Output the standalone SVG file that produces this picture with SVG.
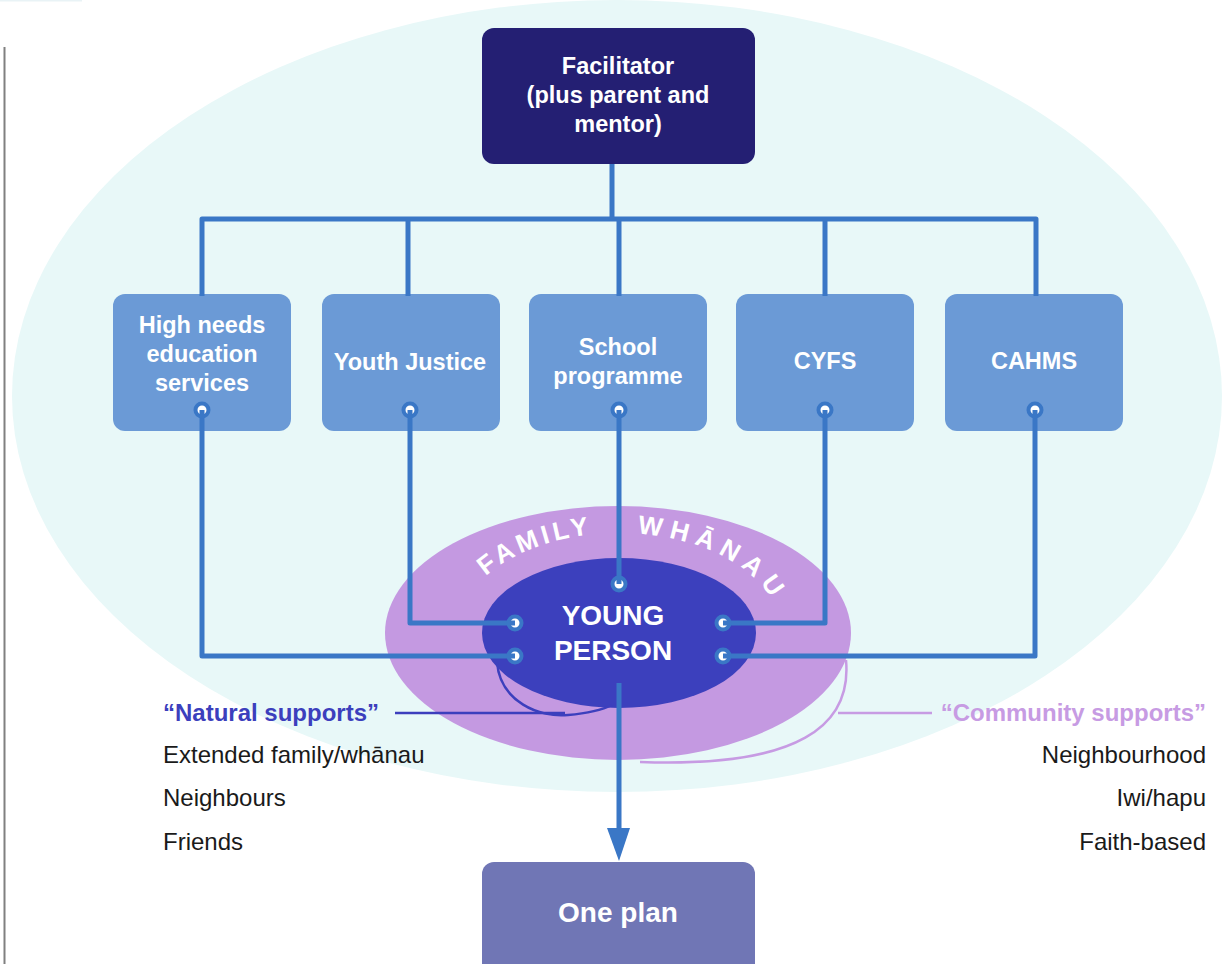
<svg xmlns="http://www.w3.org/2000/svg" width="1224" height="964" viewBox="0 0 1224 964">
<style>
  text { font-family: "Liberation Sans", Arial, sans-serif; }
  .wb { fill: #ffffff; font-weight: bold; font-size: 23.5px; text-anchor: middle; }
  .svc { fill: #6b9ad6; }
  .ln { fill: none; stroke: #3a77c6; stroke-width: 5; stroke-linejoin: round; }
  .dot { fill: #ffffff; stroke: #3a77c6; stroke-width: 4; }
  .plain { fill: #1a1a1a; font-size: 24px; }
</style>
<defs>
  <path id="arcL" d="M 457,633 A 162 100 0 0 1 781,633"/>
</defs>
<rect width="1224" height="964" fill="#ffffff"/>
<rect x="0" y="0" width="82" height="1.5" fill="#e9f3f6"/>
<line x1="4.5" y1="47" x2="4.5" y2="964" stroke="#808080" stroke-width="2"/>
<ellipse cx="617" cy="396" rx="605" ry="396" fill="#e8f8f8"/>

<g id="family">
  <ellipse cx="618" cy="633" rx="233" ry="127" fill="#c499e1"/>
  <text fill="#ffffff" font-weight="bold" font-size="26" letter-spacing="4" text-anchor="middle"><textPath href="#arcL" startOffset="124">FAMILY</textPath></text>
  <text fill="#ffffff" font-weight="bold" font-size="26" letter-spacing="7" text-anchor="middle"><textPath href="#arcL" startOffset="307">WHĀNAU</textPath></text>
</g>
<g id="young-person">
  <ellipse cx="619" cy="633" rx="137" ry="75" fill="#3c40bd"/>
  <text class="wb" x="613" y="625" style="font-size:28px">YOUNG</text>
  <text class="wb" x="613" y="660" style="font-size:28px">PERSON</text>
</g>

<g id="facilitator">
  <rect x="482" y="28" width="273" height="136" rx="12" fill="#241f73"/>
  <text class="wb" x="618" y="74">Facilitator</text>
  <text class="wb" x="618" y="103">(plus parent and</text>
  <text class="wb" x="618" y="132">mentor)</text>
</g>
<g id="high-needs">
  <rect class="svc" x="113" y="294" width="178" height="137" rx="12"/>
  <text class="wb" x="202" y="333">High needs</text>
  <text class="wb" x="202" y="362">education</text>
  <text class="wb" x="202" y="391">services</text>
</g>
<g id="youth-justice">
  <rect class="svc" x="322" y="294" width="178" height="137" rx="12"/>
  <text class="wb" x="410" y="370">Youth Justice</text>
</g>
<g id="school">
  <rect class="svc" x="529" y="294" width="178" height="137" rx="12"/>
  <text class="wb" x="618" y="355">School</text>
  <text class="wb" x="618" y="384">programme</text>
</g>
<g id="cyfs">
  <rect class="svc" x="736" y="294" width="178" height="137" rx="12"/>
  <text class="wb" x="825" y="369">CYFS</text>
</g>
<g id="cahms">
  <rect class="svc" x="945" y="294" width="178" height="137" rx="12"/>
  <text class="wb" x="1034" y="369">CAHMS</text>
</g>
<g id="one-plan">
  <rect x="482" y="862" width="273" height="120" rx="12" fill="#7076b5"/>
  <text class="wb" x="618" y="922" style="font-size:28px">One plan</text>
</g>

<g id="natural-supports">
  <text x="163" y="721" fill="#3c3fbd" font-weight="bold" font-size="24">“Natural supports”</text>
  <text class="plain" x="163" y="763">Extended family/whānau</text>
  <text class="plain" x="163" y="806">Neighbours</text>
  <text class="plain" x="163" y="850">Friends</text>
</g>
<g id="community-supports">
  <text x="1206" y="721" fill="#c79be3" font-weight="bold" font-size="24" text-anchor="end">“Community supports”</text>
  <text class="plain" x="1206" y="763" text-anchor="end">Neighbourhood</text>
  <text class="plain" x="1206" y="806" text-anchor="end">Iwi/hapu</text>
  <text class="plain" x="1206" y="850" text-anchor="end">Faith-based</text>
</g>

<g id="connectors">
  <path d="M 395,713 L 565,713" fill="none" stroke="#3c3fbd" stroke-width="2.5"/>
  <path d="M 497,662 C 500,702 540,718 568,715 C 590,713 604,709 612,705" fill="none" stroke="#3c3fbd" stroke-width="2.5"/>
  <path d="M 838,713 L 932,713" fill="none" stroke="#c79be3" stroke-width="2.5"/>
  <path d="M 846,660 C 852,725 800,768 640,762" fill="none" stroke="#c79be3" stroke-width="2.5"/>

  <path class="ln" d="M 612,164 L 612,219"/>
  <path class="ln" d="M 202,296 L 202,219 L 1036,219 L 1036,296"/>
  <path class="ln" d="M 408,219 L 408,296"/>
  <path class="ln" d="M 619,219 L 619,296"/>
  <path class="ln" d="M 825,219 L 825,296"/>

  <path class="ln" d="M 202,410 L 202,656 L 515,656"/>
  <path class="ln" d="M 410,410 L 410,623 L 515,623"/>
  <path class="ln" d="M 619,410 L 619,584"/>
  <path class="ln" d="M 825,410 L 825,623 L 723,623"/>
  <path class="ln" d="M 1035,410 L 1035,656 L 723,656"/>
  <path class="ln" d="M 619,683 L 619,832"/>
  <polygon points="607,828 630,828 619,861" fill="#3a77c6"/>

  <circle class="dot" cx="202" cy="410" r="6.5"/>
  <circle class="dot" cx="410" cy="410" r="6.5"/>
  <circle class="dot" cx="619" cy="410" r="6.5"/>
  <circle class="dot" cx="825" cy="410" r="6.5"/>
  <circle class="dot" cx="1035" cy="410" r="6.5"/>
  <circle class="dot" cx="515" cy="623" r="6.5"/>
  <circle class="dot" cx="515" cy="656" r="6.5"/>
  <circle class="dot" cx="619" cy="584" r="6.5"/>
  <circle class="dot" cx="723" cy="623" r="6.5"/>
  <circle class="dot" cx="723" cy="656" r="6.5"/>
  <path class="ln" d="M 202,410 L 202,418 M 410,410 L 410,418 M 619,410 L 619,418 M 825,410 L 825,418 M 1035,410 L 1035,418 M 515,623 L 507,623 M 515,656 L 507,656 M 619,584 L 619,576 M 723,623 L 731,623 M 723,656 L 731,656" stroke-linecap="butt"/>
</g>
</svg>
